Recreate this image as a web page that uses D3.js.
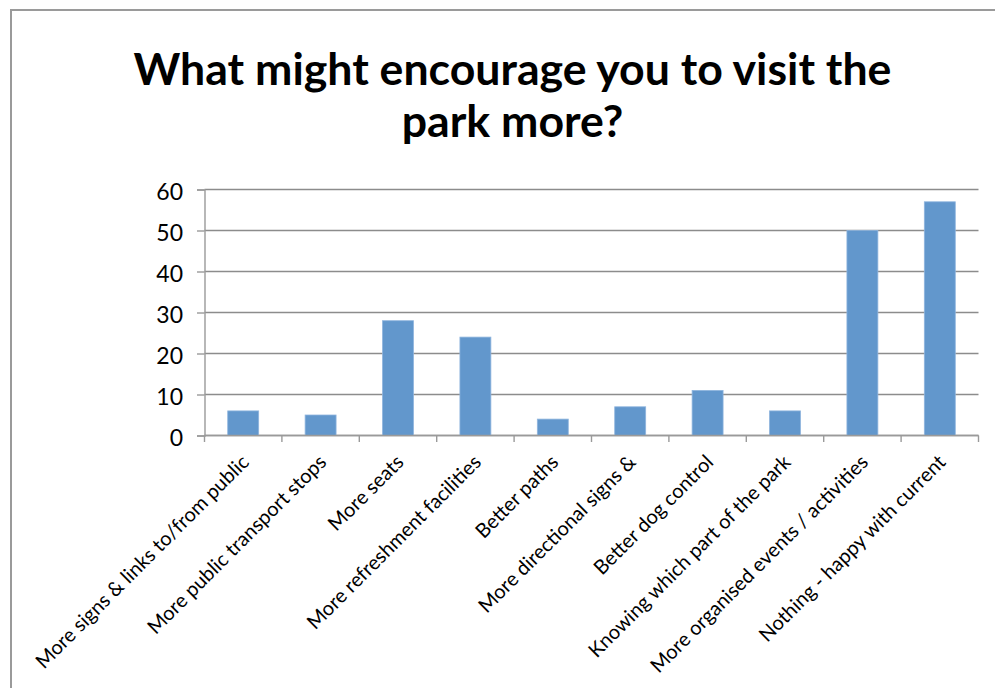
<!DOCTYPE html>
<html>
<head>
<meta charset="utf-8">
<script src="https://cdn.jsdelivr.net/npm/d3@7"></script>
<style>
  html, body { margin: 0; padding: 0; background: #fff; }
  svg { display: block; }
</style>
</head>
<body>
<svg id="chart" width="995" height="688"></svg>
<script>
const titleLines = ["What might encourage you to visit the", "park more?"];
const categories = [
  "More signs & links to/from public",
  "More public transport stops",
  "More seats",
  "More refreshment facilities",
  "Better paths",
  "More directional signs &",
  "Better dog control",
  "Knowing which part of the park",
  "More organised events / activities",
  "Nothing - happy with current"
];
const values = [6, 5, 28, 24, 4, 7, 11, 6, 50, 57];
const yTicks = [0, 10, 20, 30, 40, 50, 60];

const svg = d3.select("#chart");
const W = 995, H = 688;
const plot = { left: 204.5, right: 978.5, top: 189.5, bottom: 435.5 };
const fontFam = "Lato, 'Open Sans', 'Liberation Sans', sans-serif";

svg.append("rect").attr("width", W).attr("height", H).attr("fill", "#fff");
// outer chart border
svg.append("rect")
  .attr("x", 11).attr("y", 10).attr("width", 1100).attr("height", 800)
  .attr("fill", "none").attr("stroke", "#9a9a9a").attr("stroke-width", 2);

// title
const tl = svg.append("g").selectAll("text").data(titleLines).join("text")
  .attr("x", 512.5)
  .attr("y", (d, i) => i === 0 ? 85 : 137)
  .attr("text-anchor", "middle")
  .attr("font-family", fontFam)
  .attr("font-weight", "bold")
  .attr("font-size", 40)
  .attr("fill", "#000")
  .text(d => d);
const w0 = tl.nodes()[0].getComputedTextLength();
tl.attr("font-size", 40 * 758 / w0);

const x = d3.scaleBand().domain(categories)
  .range([plot.left, plot.right]).paddingInner(0.6).paddingOuter(0.3);
const y = d3.scaleLinear().domain([0, 60]).range([plot.bottom, plot.top]);

// gridlines
svg.append("g").selectAll("line").data(yTicks).join("line")
  .attr("x1", plot.left).attr("x2", plot.right)
  .attr("y1", d => y(d)).attr("y2", d => y(d))
  .attr("stroke", "#8c8c8c").attr("stroke-width", 1.4);

// bars
svg.append("g").selectAll("rect").data(values).join("rect")
  .attr("x", (d, i) => x(categories[i]))
  .attr("y", d => y(d))
  .attr("width", x.bandwidth())
  .attr("height", d => y(0) - y(d))
  .attr("fill", "#6297cc")
  .attr("stroke", "#8fb5de").attr("stroke-width", 0.8);

// y axis
const yAxis = d3.axisLeft(y).tickValues(yTicks).tickSize(7.5).tickPadding(14);
const yG = svg.append("g").attr("transform", `translate(${plot.left},0)`).call(yAxis);
yG.select(".domain").attr("stroke", "#9a9a9a").attr("stroke-width", 1.4);
yG.selectAll(".tick line").attr("stroke", "#9a9a9a").attr("stroke-width", 1.4);
yG.selectAll(".tick text")
  .attr("font-family", fontFam).attr("font-size", 23).attr("fill", "#000")
  .attr("dy", "0.45em");

// x axis (ticks at category boundaries)
const boundaries = d3.range(categories.length + 1).map(i => plot.left + i * (plot.right - plot.left) / categories.length);
const xG = svg.append("g");
xG.append("line")
  .attr("x1", plot.left).attr("x2", plot.right)
  .attr("y1", plot.bottom).attr("y2", plot.bottom)
  .attr("stroke", "#9a9a9a").attr("stroke-width", 1.4);
xG.selectAll("line.t").data(boundaries).join("line").attr("class", "t")
  .attr("x1", d => d).attr("x2", d => d)
  .attr("y1", plot.bottom).attr("y2", plot.bottom + 6.5)
  .attr("stroke", "#9a9a9a").attr("stroke-width", 1.4);

xG.selectAll("text").data(categories).join("text")
  .attr("transform", d => `translate(${x(d) + x.bandwidth() / 2 + 2},${plot.bottom + 23}) rotate(-45)`)
  .attr("text-anchor", "end")
  .attr("dy", "0.35em")
  .attr("font-family", fontFam)
  .attr("font-size", 20)
  .attr("fill", "#000")
  .text(d => d);
</script>
</body>
</html>
